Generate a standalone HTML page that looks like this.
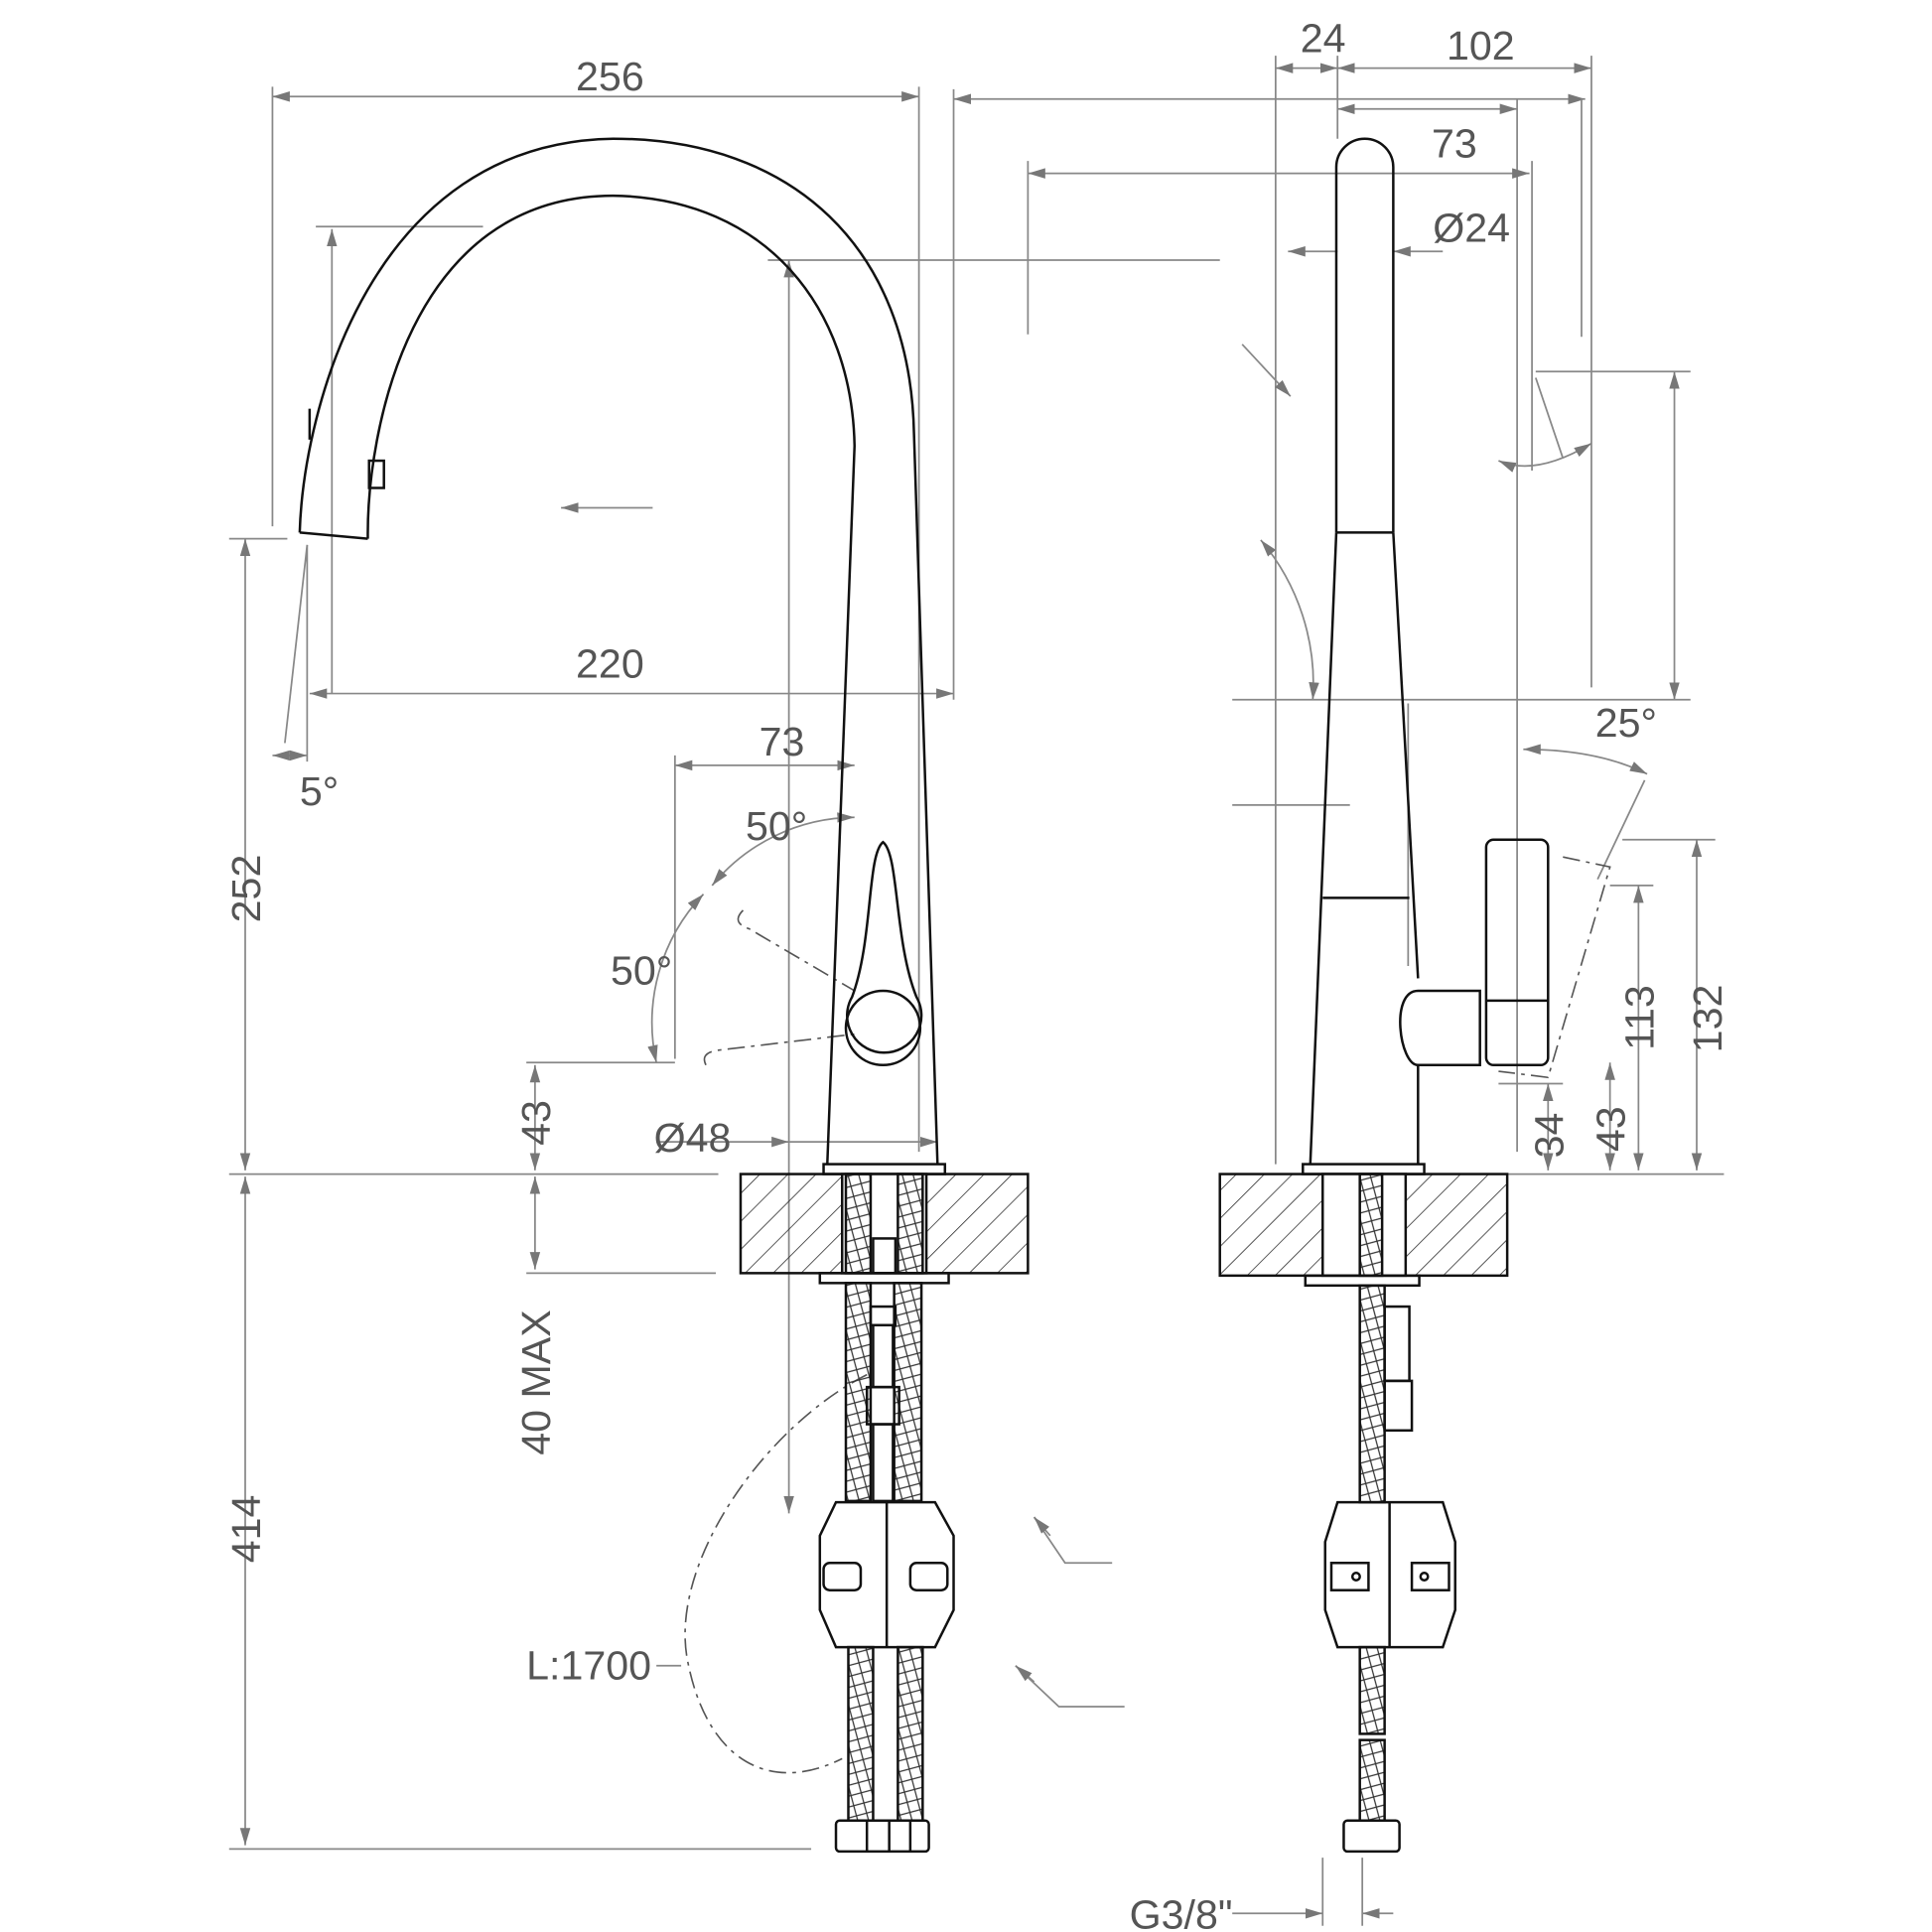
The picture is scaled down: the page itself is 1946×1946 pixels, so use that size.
<!DOCTYPE html>
<html><head><meta charset="utf-8"><style>
html,body{margin:0;padding:0;background:#fff}
svg{display:block}
text{font-family:"Liberation Sans",sans-serif;fill:#555;font-size:33px}
</style></head><body>
<svg width="1946" height="1946" viewBox="0 0 1560 1560" xmlns="http://www.w3.org/2000/svg">
<defs>
<marker id="a" viewBox="0 0 10 10" refX="10" refY="5" markerWidth="14" markerHeight="14" markerUnits="userSpaceOnUse" orient="auto-start-reverse"><path d="M0,2 L10,5 L0,8 z" fill="#777"/></marker>
<pattern id="h" width="16" height="16" patternUnits="userSpaceOnUse" patternTransform="rotate(45)"><line x1="0" y1="0" x2="0" y2="16" stroke="#222" stroke-width="1.2"/></pattern>
<pattern id="x" width="12" height="12" patternUnits="userSpaceOnUse" patternTransform="rotate(30)"><path d="M0,0 L12,12 M12,0 L0,12" stroke="#333" stroke-width="1"/></pattern>
</defs>
<g stroke="#888" stroke-width="1.4" fill="none">
<!-- left dims -->
<line x1="220" y1="78" x2="742" y2="78" marker-start="url(#a)" marker-end="url(#a)"/>
<line x1="220" y1="70" x2="220" y2="425"/>
<line x1="742" y1="70" x2="742" y2="930"/>
<line x1="255" y1="183" x2="390" y2="183"/>
<line x1="268" y1="185" x2="268" y2="560" marker-start="url(#a)"/>
<line x1="250" y1="560" x2="770" y2="560" marker-start="url(#a)" marker-end="url(#a)"/>
<line x1="545" y1="618" x2="690" y2="618" marker-start="url(#a)" marker-end="url(#a)"/>
<line x1="545" y1="610" x2="545" y2="855"/>
<line x1="620" y1="210" x2="985" y2="210"/>
<line x1="637" y1="210" x2="637" y2="1222" marker-start="url(#a)" marker-end="url(#a)"/>
<line x1="530" y1="922" x2="637" y2="922" marker-end="url(#a)"/>
<line x1="637" y1="922" x2="757" y2="922" marker-end="url(#a)"/>
<line x1="527" y1="410" x2="453" y2="410" marker-end="url(#a)"/>
<line x1="185" y1="435" x2="232" y2="435"/>
<line x1="198" y1="435" x2="198" y2="945" marker-start="url(#a)" marker-end="url(#a)"/>
<line x1="185" y1="948" x2="580" y2="948"/>
<line x1="198" y1="950" x2="198" y2="1490" marker-start="url(#a)" marker-end="url(#a)"/>
<line x1="185" y1="1493" x2="655" y2="1493"/>
<line x1="425" y1="858" x2="545" y2="858"/>
<line x1="432" y1="860" x2="432" y2="945" marker-start="url(#a)" marker-end="url(#a)"/>
<line x1="432" y1="950" x2="432" y2="1025" marker-start="url(#a)" marker-end="url(#a)"/>
<line x1="425" y1="1028" x2="578" y2="1028"/>
<line x1="248" y1="440" x2="230" y2="600"/>
<line x1="248" y1="440" x2="248" y2="615"/>
<line x1="220" y1="610" x2="248" y2="610" marker-start="url(#a)" marker-end="url(#a)"/>
<line x1="770" y1="72" x2="770" y2="565"/>
<path d="M690,660 A150,150 0 0 0 575,715" marker-start="url(#a)" marker-end="url(#a)"/>
<path d="M568,722 A150,150 0 0 0 530,858" marker-start="url(#a)" marker-end="url(#a)"/>
<path d="M835,1225 L860,1262 L898,1262" /><path d="M835,1225 L848,1240" marker-start="url(#a)"/>
<path d="M820,1345 L855,1378 L908,1378"/><path d="M820,1345 L835,1358" marker-start="url(#a)"/>
<line x1="530" y1="1345" x2="550" y2="1345"/>
<!-- right dims -->
<line x1="1030" y1="55" x2="1080" y2="55" marker-start="url(#a)" marker-end="url(#a)"/>
<line x1="1080" y1="55" x2="1285" y2="55" marker-start="url(#a)" marker-end="url(#a)"/>
<line x1="1030" y1="45" x2="1030" y2="940"/>
<line x1="1080" y1="45" x2="1080" y2="112"/>
<line x1="1285" y1="45" x2="1285" y2="555"/>
<line x1="770" y1="80" x2="1280" y2="80" marker-start="url(#a)" marker-end="url(#a)"/>
<line x1="1277" y1="80" x2="1277" y2="272"/>
<line x1="1080" y1="88" x2="1225" y2="88" marker-start="url(#a)" marker-end="url(#a)"/>
<line x1="1225" y1="80" x2="1225" y2="930"/>
<line x1="830" y1="140" x2="1235" y2="140" marker-start="url(#a)" marker-end="url(#a)"/>
<line x1="830" y1="130" x2="830" y2="270"/>
<line x1="1237" y1="130" x2="1237" y2="380"/>
<line x1="1040" y1="203" x2="1080" y2="203" marker-start="url(#a)"/>
<line x1="1125" y1="203" x2="1165" y2="203" marker-start="url(#a)"/>
<line x1="1003" y1="278" x2="1042" y2="320" marker-end="url(#a)"/>
<path d="M1018,436 A180,180 0 0 1 1060,565" marker-start="url(#a)" marker-end="url(#a)"/>
<line x1="1240" y1="300" x2="1365" y2="300"/>
<line x1="1352" y1="300" x2="1352" y2="565" marker-start="url(#a)" marker-end="url(#a)"/>
<line x1="995" y1="565" x2="1365" y2="565"/>
<line x1="995" y1="650" x2="1090" y2="650"/>
<line x1="1137" y1="568" x2="1137" y2="780"/>
<line x1="1240" y1="305" x2="1262" y2="370"/>
<path d="M1210,372 Q1240,385 1285,358" marker-start="url(#a)" marker-end="url(#a)"/>
<path d="M1230,605 Q1290,605 1330,625" marker-start="url(#a)" marker-end="url(#a)"/>
<line x1="1328" y1="630" x2="1290" y2="710"/>
<line x1="1310" y1="678" x2="1385" y2="678"/>
<line x1="1370" y1="678" x2="1370" y2="945" marker-start="url(#a)" marker-end="url(#a)"/>
<line x1="1300" y1="715" x2="1335" y2="715"/>
<line x1="1323" y1="715" x2="1323" y2="945" marker-start="url(#a)" marker-end="url(#a)"/>
<line x1="1300" y1="858" x2="1300" y2="945" marker-start="url(#a)" marker-end="url(#a)"/>
<line x1="1210" y1="875" x2="1262" y2="875"/>
<line x1="1250" y1="875" x2="1250" y2="945" marker-start="url(#a)" marker-end="url(#a)"/>
<line x1="1150" y1="948" x2="1392" y2="948"/>
<line x1="995" y1="1545" x2="1068" y2="1545" marker-end="url(#a)"/>
<line x1="1125" y1="1545" x2="1100" y2="1545" marker-end="url(#a)"/>
<line x1="1068" y1="1500" x2="1068" y2="1555"/><line x1="1100" y1="1500" x2="1100" y2="1555"/>
</g>
<!-- dashed ghost handles -->
<g stroke="#555" stroke-width="1.3" fill="none" stroke-dasharray="14,5,3,5">
<path d="M600,735 Q590,745 605,750 L690,800"/>
<path d="M570,860 Q565,850 580,848 L690,835"/>
<path d="M700,1110 C620,1150 540,1260 555,1340 C570,1420 620,1450 680,1420"/>
<path d="M1262,692 L1300,700 L1250,870 L1210,865"/>
</g>
<!-- left faucet -->
<g stroke="#111" stroke-width="2" fill="none">
<path d="M242,430 C245,330 300,115 495,112 C640,112 735,200 738,350 L757,940"/>
<path d="M297,435 C296,350 330,158 495,158 C620,160 688,250 690,360 L668,940"/>
<path d="M242,430 L297,435"/>
<path d="M250,330 L250,355"/>
<rect x="298" y="372" width="12" height="22"/>
<rect x="665" y="940" width="98" height="8"/>
<path d="M713,680 C700,690 705,760 688,805 A30,30 0 1 0 740,805 C722,760 726,690 713,680 Z"/>
<circle cx="713" cy="830" r="30"/>
<rect x="598" y="948" width="232" height="80" fill="url(#h)"/>
<rect x="680" y="948" width="68" height="80" fill="#fff"/>
<rect x="683" y="948" width="20" height="80" fill="url(#x)"/>
<rect x="725" y="948" width="20" height="80" fill="url(#x)"/>
<rect x="705" y="1000" width="18" height="28"/>
<rect x="662" y="1028" width="104" height="8"/>
<rect x="683" y="1036" width="20" height="176" fill="url(#x)"/>
<rect x="722" y="1036" width="22" height="176" fill="url(#x)"/>
<rect x="703" y="1055" width="20" height="15"/><rect x="705" y="1070" width="16" height="50"/>
<rect x="700" y="1120" width="26" height="30"/><rect x="705" y="1150" width="16" height="62"/>
<path d="M662,1240 L675,1213 L755,1213 L770,1240 L770,1300 L755,1330 L675,1330 L662,1300 Z"/>
<line x1="716" y1="1213" x2="716" y2="1330"/>
<rect x="665" y="1262" width="30" height="22" rx="5"/><rect x="735" y="1262" width="30" height="22" rx="5"/>
<rect x="685" y="1330" width="20" height="140" fill="url(#x)"/>
<rect x="725" y="1330" width="20" height="140" fill="url(#x)"/>
<rect x="675" y="1470" width="75" height="25" rx="3"/>
<line x1="700" y1="1470" x2="700" y2="1495"/><line x1="718" y1="1470" x2="718" y2="1495"/><line x1="735" y1="1470" x2="735" y2="1495"/>
</g>
<!-- right faucet -->
<g stroke="#111" stroke-width="2" fill="none">
<path d="M1079,430 L1079,135 A23,23 0 0 1 1125,135 L1125,430"/>
<line x1="1079" y1="430" x2="1125" y2="430"/>
<path d="M1079,430 L1058,940 M1125,430 L1145,790"/>
<line x1="1068" y1="725" x2="1138" y2="725"/>
<path d="M1145,860 L1145,940"/>
<path d="M1145,800 L1195,800 L1195,860 L1145,860 C1130,860 1122,800 1145,800 Z"/>
<rect x="1200" y="678" width="50" height="182" rx="6"/>
<line x1="1200" y1="808" x2="1250" y2="808"/>
<rect x="1052" y="940" width="98" height="8"/>
<rect x="985" y="948" width="232" height="82" fill="url(#h)"/>
<rect x="1068" y="948" width="67" height="82" fill="#fff"/>
<rect x="1098" y="948" width="18" height="82" fill="url(#x)"/>
<rect x="1054" y="1030" width="92" height="8"/>
<rect x="1098" y="1038" width="20" height="175" fill="url(#x)"/>
<rect x="1118" y="1055" width="20" height="60"/><rect x="1118" y="1115" width="22" height="40"/>
<path d="M1070,1245 L1080,1213 L1165,1213 L1175,1245 L1175,1300 L1165,1330 L1080,1330 L1070,1300 Z"/>
<line x1="1122" y1="1213" x2="1122" y2="1330"/>
<rect x="1075" y="1262" width="30" height="22"/><rect x="1140" y="1262" width="30" height="22"/>
<circle cx="1095" cy="1273" r="3"/><circle cx="1150" cy="1273" r="3"/>
<rect x="1098" y="1330" width="20" height="70" fill="url(#x)"/>
<rect x="1098" y="1405" width="20" height="65" fill="url(#x)"/>
<rect x="1085" y="1470" width="45" height="25" rx="3"/>
</g>
<!-- labels -->
<text x="465" y="73">256</text>
<text x="465" y="547">220</text>
<text x="613" y="610">73</text>
<text x="602" y="678">50°</text>
<text x="493" y="795">50°</text>
<text x="528" y="930">Ø48</text>
<text x="242" y="650">5°</text>
<text x="425" y="1356">L:1700</text>
<text x="1050" y="42">24</text>
<text x="1168" y="48">102</text>
<text x="1156" y="127">73</text>
<text x="1157" y="195">Ø24</text>
<text x="1288" y="595">25°</text>
<text x="912" y="1557">G3/8"</text>
<text transform="translate(210,745) rotate(-90)">252</text>
<text transform="translate(210,1262) rotate(-90)">414</text>
<text transform="translate(444,925) rotate(-90)">43</text>
<text transform="translate(444,1175) rotate(-90)">40 MAX</text>
<text transform="translate(1262,935) rotate(-90)">34</text>
<text transform="translate(1312,930) rotate(-90)">43</text>
<text transform="translate(1335,848) rotate(-90)">113</text>
<text transform="translate(1390,850) rotate(-90)">132</text>
</svg>
</body></html>
